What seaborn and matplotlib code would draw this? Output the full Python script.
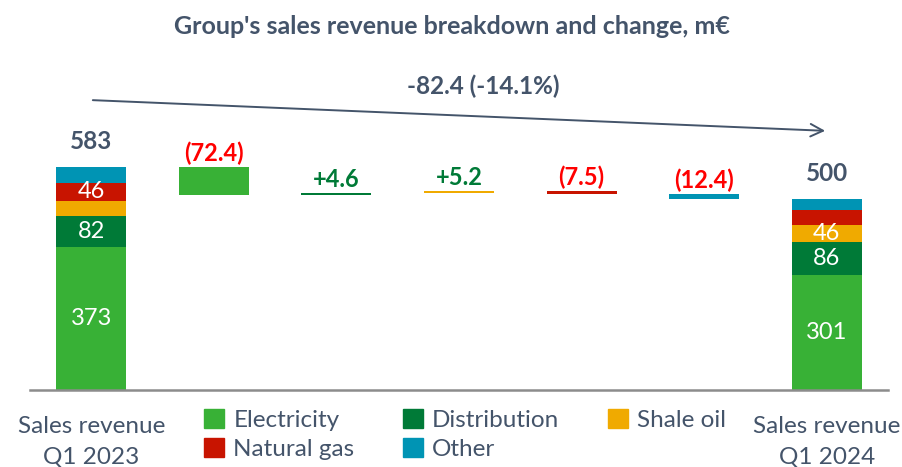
import matplotlib
matplotlib.use("Agg")
import matplotlib.pyplot as plt
from matplotlib.patches import Patch
import numpy as np
import pandas as pd
import seaborn as sns

COMPONENTS = ['Electricity', 'Distribution', 'Shale oil', 'Natural gas', 'Other']
COLORS = ['#38b136', '#007a37', '#f0aa00', '#c81400', '#0094b4']
START_Q1_2023 = [373.0, 81.4, 40.8, 46.0, 41.3]
CHANGE = [-72.4, 4.6, 5.2, -7.5, -12.4]
CHANGE_LABELS = ['(72.4)', '+4.6', '+5.2', '(7.5)', '(12.4)']
CHANGE_COLORS = ['#ff0000', '#007a37', '#007a37', '#ff0000', '#ff0000']
START_LABELS = ['373', '82', '', '46', '']
END_LABELS = ['301', '86', '46', '', '']
TOTAL_LABELS = ['583', '500']
TOTAL_CHANGE = '-82.4 (-14.1%)'
CATEGORIES = ['Sales revenue\nQ1 2023', 'd_el', 'd_dist', 'd_shale', 'd_gas', 'd_other',
              'Sales revenue\nQ1 2024']

TEXT = '#44546a'
sns.set_style('white')
plt.rcParams['font.family'] = ['Lato', 'DejaVu Sans']

start = np.array(START_Q1_2023)
change = np.array(CHANGE)
end = start + change
start_bottom = np.concatenate([[0], np.cumsum(start)[:-1]])
end_bottom = np.concatenate([[0], np.cumsum(end)[:-1]])
# running level of the waterfall before / after each change
level_before = start.sum() + np.concatenate([[0], np.cumsum(change)[:-1]])
level_after = level_before + change

fig = plt.figure(figsize=(9.03, 4.67), dpi=100)
ax = fig.add_axes([30 / 903, 77.5 / 467, 858 / 903, 329.5 / 467])
W = 0.57
for i, comp in enumerate(COMPONENTS):
    heights = np.zeros(len(CATEGORIES))
    bottoms = np.zeros(len(CATEGORIES))
    heights[0], bottoms[0] = start[i], start_bottom[i]
    heights[i + 1] = abs(change[i])
    bottoms[i + 1] = min(level_before[i], level_after[i])
    heights[-1], bottoms[-1] = end[i], end_bottom[i]
    df = pd.DataFrame({'cat': CATEGORIES, 'height': heights})
    sns.barplot(data=df, x='cat', y='height', order=CATEGORIES, color=COLORS[i],
                saturation=1, width=W, errorbar=None, bottom=list(bottoms),
                linewidth=0, ax=ax)

    # white values inside stacked bars
    if START_LABELS[i]:
        ax.text(0, start_bottom[i] + start[i] / 2, START_LABELS[i], ha='center',
                va='center', color='white', fontsize=17)
    if END_LABELS[i]:
        ax.text(len(CATEGORIES) - 1, end_bottom[i] + end[i] / 2, END_LABELS[i],
                ha='center', va='center', color='white', fontsize=17)
    top = max(level_before[i], level_after[i])
    ax.annotate(CHANGE_LABELS[i], (i + 1, top), xytext=(0, 1.5), textcoords='offset points',
                ha='center', va='bottom', color=CHANGE_COLORS[i], fontsize=17,
                fontweight='bold')

ax.annotate(TOTAL_LABELS[0], (0, start.sum()), xytext=(0, 10), textcoords='offset points',
            ha='center', va='bottom', color=TEXT, fontsize=17.5, fontweight='bold')
ax.annotate(TOTAL_LABELS[1], (len(CATEGORIES) - 1, end.sum()), xytext=(0, 10),
            textcoords='offset points', ha='center', va='bottom', color=TEXT,
            fontsize=17.5, fontweight='bold')

# overall change arrow
ax.annotate('', xy=(6.01, 678), xytext=(-0.01, 759),
            arrowprops=dict(arrowstyle='->,head_length=0.9,head_width=0.45',
                            color=TEXT, lw=1.4))
ax.text(3.2, 795, TOTAL_CHANGE, ha='center', va='center', color=TEXT, fontsize=17.5,
        fontweight='bold')

ax.set_xlim(-0.5, len(CATEGORIES) - 0.5)
ax.set_ylim(0, 864)
ax.set_ylabel('')
ax.set_xlabel('')
ax.set_yticks([])
ax.set_xticks(np.arange(-0.5, len(CATEGORIES)), labels=[''] * (len(CATEGORIES) + 1))
ax.set_xticks([0, len(CATEGORIES) - 1], labels=[CATEGORIES[0], CATEGORIES[-1]], minor=True)
ax.tick_params(axis='x', which='major', direction='out', length=7, width=1.5,
               color='#8c8c8c')
ax.tick_params(axis='x', which='minor', length=0, pad=19, labelsize=17.5, labelcolor=TEXT)
for lbl in ax.get_xticklabels(minor=True):
    lbl.set_linespacing(1.55)
sns.despine(ax=ax, left=True)
ax.spines['bottom'].set_color('#8c8c8c')
ax.spines['bottom'].set_linewidth(1.8)

order = [0, 3, 1, 4, 2]
handles = [Patch(color=COLORS[k], label=COMPONENTS[k]) for k in order]
fig.legend(handles=handles, ncol=3, loc='upper left', bbox_to_anchor=(192 / 903, 1 - 397 / 467),
           frameon=False, fontsize=17.5, handlelength=0.8, handleheight=0.8,
           handletextpad=0.4, columnspacing=2.0, labelspacing=0.3, borderpad=0,
           labelcolor=TEXT)

fig.text(0.5, 1 - 26 / 467, "Group's sales revenue breakdown and change, m€", ha='center',
         va='center', color=TEXT, fontsize=18, fontweight='bold')

fig.savefig('out.png', dpi=100)
